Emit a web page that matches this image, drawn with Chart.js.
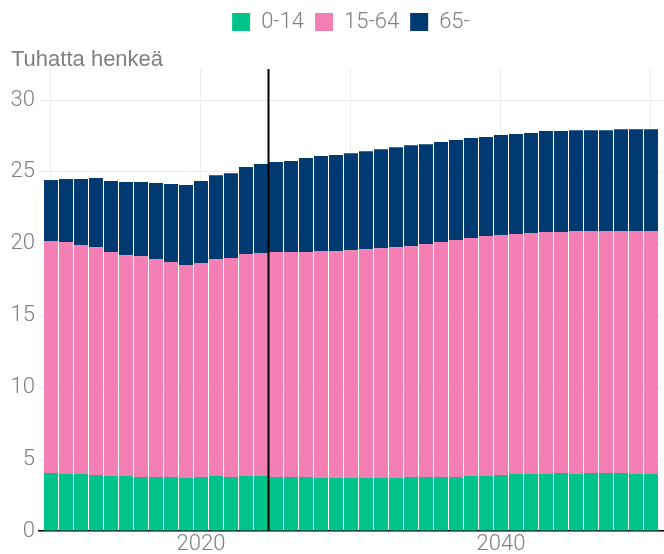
<!DOCTYPE html>
<html>
<head>
<meta charset="utf-8">
<script src="https://cdn.jsdelivr.net/npm/chart.js@4"></script>
<style>
  html, body { margin: 0; padding: 0; background: #fff; }
  #wrap { width: 664px; height: 554px; }
</style>
</head>
<body>
<div id="wrap"><canvas id="chart" width="664" height="554"></canvas></div>
<script>
/************** DATA **************/
const years = [];
for (let y = 2010; y <= 2050; y++) years.push(y);

// tuhatta henkeä
const age0_14 = [
  4.04, 3.97, 3.97, 3.90, 3.83, 3.83, 3.76, 3.76, 3.76, 3.69,
  3.76, 3.83, 3.76, 3.83, 3.83, 3.76, 3.76, 3.76, 3.69, 3.69,
  3.69, 3.69, 3.69, 3.69, 3.76, 3.76, 3.76, 3.76, 3.83, 3.83,
  3.90, 3.97, 3.97, 3.97, 4.04, 3.97, 4.04, 4.04, 4.04, 3.97,
  3.97
];
const age15_64 = [
  16.14, 16.14, 15.93, 15.86, 15.59, 15.37, 15.37, 15.17, 14.96, 14.82,
  14.89, 15.10, 15.24, 15.45, 15.52, 15.66, 15.66, 15.66, 15.80, 15.80,
  15.86, 15.93, 16.00, 16.07, 16.07, 16.21, 16.35, 16.49, 16.56, 16.70,
  16.70, 16.70, 16.77, 16.84, 16.77, 16.91, 16.84, 16.84, 16.84, 16.91,
  16.91
];
const age65 = [
  4.25, 4.39, 4.60, 4.81, 4.94, 5.09, 5.16, 5.29, 5.43, 5.57,
  5.71, 5.84, 5.91, 6.05, 6.19, 6.26, 6.33, 6.54, 6.61, 6.68,
  6.75, 6.82, 6.89, 6.96, 7.03, 6.96, 6.96, 6.96, 6.96, 6.89,
  6.96, 6.96, 6.96, 7.03, 7.03, 7.02, 7.02, 7.02, 7.09, 7.09,
  7.09
];

const xTicks = [2010, 2020, 2030, 2040, 2050];
const xLabels = [2020, 2040];
const yTicks = [0, 5, 10, 15, 20, 25, 30];
const forecastStart = 2024.5;
const yTitle = "Tuhatta henkeä";

/************** STYLE **************/
const FONT = "Roboto";
const GRAY = "#7f7f7f";
const GRID = "#ececec";

/************** PLUGINS **************/
// akselin otsikko vasempaan yläkulmaan
const titlePlugin = {
  id: "yTitle",
  afterDraw(chart) {
    const ctx = chart.ctx;
    ctx.save();
    ctx.font = "22px 'Liberation Sans'";
    ctx.fillStyle = GRAY;
    ctx.textBaseline = "alphabetic";
    ctx.textAlign = "left";
    ctx.fillText(yTitle, 11, 66);
    ctx.restore();
  }
};

// pystyviiva ennusteen alkuun
const markerPlugin = {
  id: "marker",
  afterDatasetsDraw(chart) {
    const x = chart.scales.x.getPixelForValue(forecastStart);
    const area = chart.chartArea;
    const ctx = chart.ctx;
    ctx.save();
    ctx.strokeStyle = "#000";
    ctx.lineWidth = 2;
    ctx.beginPath();
    ctx.moveTo(x, area.top);
    ctx.lineTo(x, area.bottom);
    ctx.stroke();
    ctx.restore();
  }
};

// lisää tilaa legendan alle
const legendSpace = {
  id: "legendSpace",
  beforeInit(chart) {
    const fit = chart.legend.fit;
    chart.legend.fit = function () {
      fit.bind(chart.legend)();
      this.height += 26;
    };
  }
};

/************** CHART **************/
const ctx = document.getElementById("chart").getContext("2d");

const chart = new Chart(ctx, {
  type: "bar",
  data: {
    labels: years,
    datasets: [
      { label: "0-14", data: age0_14, backgroundColor: "#00c389" },
      { label: "15-64", data: age15_64, backgroundColor: "#f47fb5" },
      { label: "65-", data: age65, backgroundColor: "#003a70" }
    ]
  },
  options: {
    responsive: false,
    animation: false,
    layout: { padding: { top: 0, right: 1, left: 0, bottom: -3 } },
    datasets: {
      bar: { categoryPercentage: 1, barPercentage: 0.93 }
    },
    plugins: {
      tooltip: { enabled: false },
      legend: {
        position: "top",
        fullSize: false,
        labels: {
          boxWidth: 18,
          boxHeight: 18,
          padding: 11,
          color: GRAY,
          font: { family: FONT, size: 22, weight: "300" }
        }
      }
    },
    scales: {
      x: {
        type: "linear",
        stacked: true,
        offset: false,
        min: 2009.2,
        max: 2050.8,
        afterBuildTicks(scale) {
          scale.ticks = xTicks.map(v => ({ value: v }));
        },
        ticks: {
          color: GRAY,
          font: { family: FONT, size: 22, weight: "300", lineHeight: 1 },
          padding: 2,
          autoSkip: false,
          maxRotation: 0,
          callback: v => (xLabels.includes(v) ? String(v) : "")
        },
        grid: { color: GRID, lineWidth: 1, drawTicks: false, offset: false },
        border: { display: true, color: "#000", width: 1.5 }
      },
      y: {
        stacked: true,
        min: 0,
        max: 32.16,
        afterBuildTicks(scale) {
          scale.ticks = yTicks.map(v => ({ value: v }));
        },
        afterFit(scale) {
          scale.width = 39;
        },
        ticks: {
          color: GRAY,
          font: { family: FONT, size: 22, weight: "300" },
          padding: 4
        },
        grid: { color: GRID, lineWidth: 1, drawTicks: false },
        border: { display: false }
      }
    }
  },
  plugins: [titlePlugin, markerPlugin, legendSpace]
});
</script>
</body>
</html>
